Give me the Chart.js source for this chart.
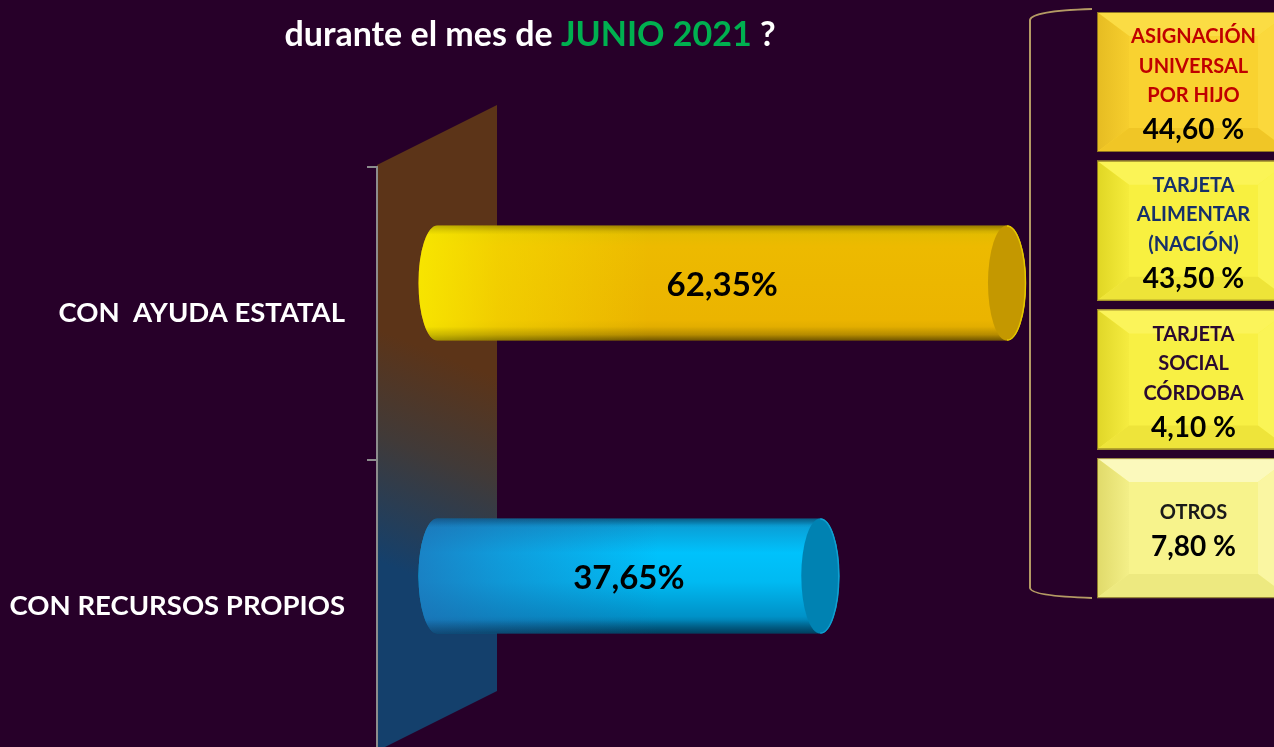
<!DOCTYPE html>
<html><head><meta charset="utf-8">
<script src="https://cdn.jsdelivr.net/npm/chart.js@4.4.0/dist/chart.umd.min.js"></script>
<style>
html,body{margin:0;padding:0;background:#270029;overflow:hidden;width:1274px;height:747px}
canvas{display:block}
</style>
</head><body>
<canvas id="c" width="1274" height="800"></canvas>
<script>
// ---------- data ----------
const titleParts = ["durante el mes de ", "JUNIO 2021", " ?"];
const categories = ["CON  AYUDA ESTATAL", "CON RECURSOS PROPIOS"];
const values = [62.35, 37.65];
const subLabels = [["ASIGNACIÓN", "UNIVERSAL", "POR HIJO"], ["TARJETA", "ALIMENTAR", "(NACIÓN)"], ["TARJETA", "SOCIAL", "CÓRDOBA"], ["OTROS"]];
const subValues = [44.60, 43.50, 4.10, 7.80];

// ---------- styles ----------
const FONT = "Lato";
const titleColors = ["#ffffff", "#00b050", "#ffffff"];
const barStyles = [
  { body: [[0, "#b89400"], [0.05, "#e2bc00"], [0.18, "#edba00"], [0.82, "#ebb400"], [0.95, "#d8a600"], [1, "#9c7600"]],
    left: "rgba(250,240,0,", leftW: 230, a0: 0.8, a1: 0.4, cap: "#c49800", rim: "#e4c800" },
  { body: [[0, "#0a6e9e"], [0.06, "#0a9ed6"], [0.3, "#00c2fc"], [0.55, "#00baf2"], [0.85, "#0092c8"], [1, "#005680"]],
    left: "rgba(34,110,180,", leftW: 240, a0: 0.75, a1: 0.45, cap: "#0082b2", rim: "#10a0d0" }
];
const boxStyles = [
  { base: "#f9d230", top: "#fbdc44", l0: "#e6bc22", l1: "#f6ce2e", bottom: "#f0c626", right: "#fbd83c", text: "#c00000" },
  { base: "#f8f040", top: "#fbf456", l0: "#e0d624", l1: "#f5ec3c", bottom: "#eee438", right: "#faf452", text: "#17306a" },
  { base: "#f8f044", top: "#fbf45a", l0: "#e0d628", l1: "#f5ec40", bottom: "#eee43a", right: "#faf456", text: "#2a0a30" },
  { base: "#f7f38c", top: "#fbf9bc", l0: "#e0da6a", l1: "#f3ef88", bottom: "#ede980", right: "#faf6a2", text: "#1a1a1a" }
];
const fmt = (v) => v.toFixed(2).replace(".", ",");

// ---------- plugins ----------
const wallPlugin = {
  id: "wall",
  beforeDraw(chart) {
    const { ctx, chartArea: a } = chart;
    const dx = 120, dy = -60;
    ctx.save();
    const g = ctx.createLinearGradient(480, 370, 400, 570);
    g.addColorStop(0, "#5c3418");
    g.addColorStop(0.45, "#413a38");
    g.addColorStop(1, "#14406c");
    ctx.beginPath();
    ctx.moveTo(a.left, a.top - 2);
    ctx.lineTo(a.left + dx, a.top - 2 + dy);
    ctx.lineTo(a.left + dx, a.bottom - 2 + dy);
    ctx.lineTo(a.left, a.bottom - 2);
    ctx.closePath();
    ctx.fillStyle = g;
    ctx.fill();
    ctx.restore();
  }
};

function drawCylinder(ctx, x1, x2, cy, rx, ry, s) {
  ctx.save();
  ctx.beginPath();
  ctx.moveTo(x2, cy - ry);
  ctx.lineTo(x1, cy - ry);
  ctx.ellipse(x1, cy, rx, ry, 0, -Math.PI / 2, Math.PI / 2, true);
  ctx.lineTo(x2, cy + ry);
  ctx.ellipse(x2, cy, rx, ry, 0, Math.PI / 2, -Math.PI / 2, true);
  ctx.closePath();
  const vg = ctx.createLinearGradient(0, cy - ry, 0, cy + ry);
  s.body.forEach(([o, c]) => vg.addColorStop(o, c));
  ctx.fillStyle = vg;
  ctx.fill();
  ctx.clip();
  const hg = ctx.createLinearGradient(x1 - rx, 0, x1 - rx + s.leftW, 0);
  hg.addColorStop(0, s.left + s.a0 + ")");
  hg.addColorStop(0.35, s.left + s.a1 + ")");
  hg.addColorStop(1, s.left + "0)");
  ctx.fillStyle = hg;
  ctx.fillRect(x1 - rx, cy - ry, s.leftW, 2 * ry);
  const eg = ctx.createLinearGradient(0, cy - ry, 0, cy + ry);
  eg.addColorStop(0, "rgba(0,0,0,0.18)");
  eg.addColorStop(0.08, "rgba(0,0,0,0)");
  eg.addColorStop(0.88, "rgba(0,0,0,0)");
  eg.addColorStop(1, "rgba(0,0,0,0.28)");
  ctx.fillStyle = eg;
  ctx.fillRect(x1 - rx, cy - ry, x2 - x1 + 2 * rx, 2 * ry);
  ctx.restore();
  // cap
  ctx.save();
  ctx.beginPath();
  ctx.ellipse(x2, cy, rx, ry, 0, 0, Math.PI * 2);
  ctx.fillStyle = s.cap;
  ctx.fill();
  ctx.beginPath();
  ctx.ellipse(x2, cy, rx - 0.5, ry - 0.5, 0, -Math.PI / 2, Math.PI / 2, false);
  ctx.strokeStyle = s.rim;
  ctx.lineWidth = 1.5;
  ctx.stroke();
  ctx.restore();
}

const cylinderPlugin = {
  id: "cylinders",
  afterDatasetsDraw(chart) {
    const { ctx } = chart;
    const meta = chart.getDatasetMeta(0);
    const shiftY = -30.5;
    meta.data.forEach((el, i) => {
      const p = el.getProps(["x", "y", "base", "height"], true);
      const cy = p.y + shiftY;
      const ry = p.height / 2;
      drawCylinder(ctx, p.base, p.x, cy, 19, ry, barStyles[i]);
      ctx.save();
      ctx.font = "bold 33px " + FONT;
      ctx.fillStyle = "#000000";
      ctx.textAlign = "center";
      ctx.textBaseline = "middle";
      ctx.fillText(fmt(values[i]) + "%", (p.base + p.x) / 2, cy + 2);
      ctx.restore();
    });
  }
};

const titlePlugin = {
  id: "mixedTitle",
  afterDraw(chart) {
    const { ctx } = chart;
    ctx.save();
    ctx.font = "bold 34px " + FONT;
    ctx.textBaseline = "alphabetic";
    const widths = titleParts.map(t => ctx.measureText(t).width);
    const total = widths.reduce((a, b) => a + b, 0);
    let x = 530 - total / 2;
    titleParts.forEach((t, i) => {
      ctx.fillStyle = titleColors[i];
      ctx.fillText(t, x, 46);
      x += widths[i];
    });
    ctx.restore();
  }
};

function poly(ctx, pts, fill) {
  ctx.beginPath();
  ctx.moveTo(pts[0][0], pts[0][1]);
  for (let k = 1; k < pts.length; k++) ctx.lineTo(pts[k][0], pts[k][1]);
  ctx.closePath();
  ctx.fillStyle = fill;
  ctx.fill();
}

const panelPlugin = {
  id: "panel",
  afterDraw(chart) {
    const { ctx } = chart;
    ctx.save();
    ctx.beginPath();
    ctx.moveTo(1092, 9);
    ctx.quadraticCurveTo(1031, 11, 1030, 20);
    ctx.lineTo(1030, 588);
    ctx.quadraticCurveTo(1031, 596, 1092, 598);
    ctx.strokeStyle = "#b49a64";
    ctx.lineWidth = 2;
    ctx.stroke();
    const left = 1097, w = 193, top0 = 12, h = 140, gap = 8.7, bx = 32, by = 24;
    subLabels.forEach((lines, i) => {
      const s = boxStyles[i];
      const x = left, y = top0 + i * (h + gap);
      ctx.fillStyle = s.base;
      ctx.fillRect(x, y, w, h);
      poly(ctx, [[x, y], [x + w, y], [x + w - bx, y + by], [x + bx, y + by]], s.top);
      const lg = ctx.createLinearGradient(x, 0, x + bx, 0);
      lg.addColorStop(0, s.l0); lg.addColorStop(1, s.l1);
      poly(ctx, [[x, y], [x + bx, y + by], [x + bx, y + h - by], [x, y + h]], lg);
      poly(ctx, [[x + w, y], [x + w, y + h], [x + w - bx, y + h - by], [x + w - bx, y + by]], s.right);
      poly(ctx, [[x, y + h], [x + bx, y + h - by], [x + w - bx, y + h - by], [x + w, y + h]], s.bottom);
      ctx.strokeStyle = "rgba(120,96,30,0.8)";
      ctx.lineWidth = 1;
      ctx.strokeRect(x + 0.5, y + 0.5, w - 1, h - 1);
      const lineGap = 29.5, valGap = 34.5;
      const span = (lines.length - 1) * lineGap + valGap;
      const cx = x + w / 2;
      let ty = y + h / 2 + 1.5 - span / 2;
      ctx.textAlign = "center";
      ctx.textBaseline = "middle";
      ctx.font = "bold 20px " + FONT;
      ctx.fillStyle = s.text;
      lines.forEach((t, k) => ctx.fillText(t, cx, ty + k * lineGap));
      ctx.font = "bold 28px " + FONT;
      ctx.fillStyle = "#000000";
      ctx.fillText(fmt(subValues[i]) + " %", cx, ty + (lines.length - 1) * lineGap + valGap);
    });
    ctx.restore();
  }
};

// ---------- chart ----------
new Chart(document.getElementById("c"), {
  type: "bar",
  data: {
    labels: categories,
    datasets: [{
      data: values,
      base: -13,
      backgroundColor: "rgba(0,0,0,0)",
      borderWidth: 0,
      barPercentage: 0.393,
      categoryPercentage: 1
    }]
  },
  options: {
    indexAxis: "y",
    responsive: false,
    animation: false,
    devicePixelRatio: 1,
    layout: { padding: { top: 167, right: 247, bottom: 47, left: 0 } },
    plugins: { legend: { display: false }, tooltip: { enabled: false }, title: { display: false } },
    scales: {
      x: { display: false, min: -21, max: 65 },
      y: {
        position: "left",
        afterFit(scale) { scale.width = 377; },
        grid: { offset: true, drawOnChartArea: false, drawTicks: true, tickLength: 10, color: "#8c8c8c", lineWidth: 2 },
        border: { display: true, color: "#8c8c8c", width: 2 },
        ticks: { color: "#ffffff", padding: 22, font: { family: FONT, weight: "bold", size: 27.5 } }
      }
    }
  },
  plugins: [wallPlugin, cylinderPlugin, titlePlugin, panelPlugin]
});
</script>
</body></html>
